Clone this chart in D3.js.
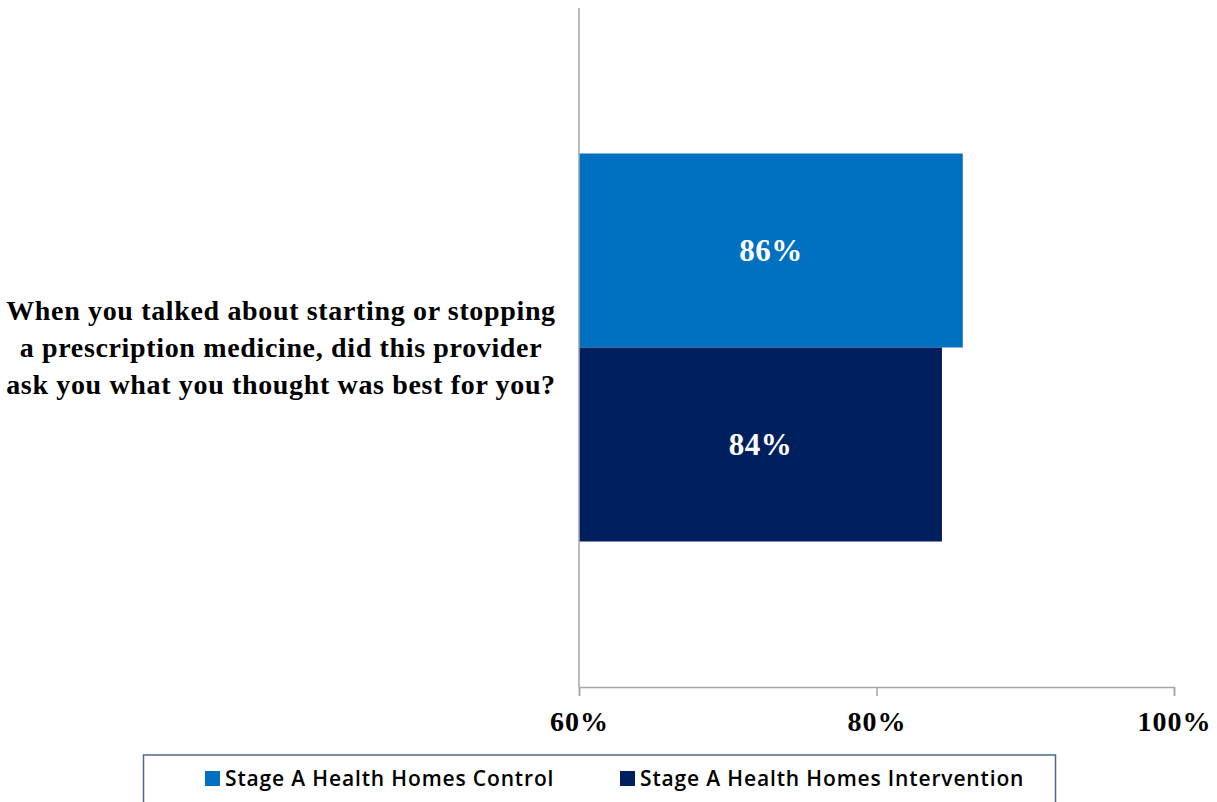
<!DOCTYPE html>
<html>
<head>
<meta charset="utf-8">
<script src="https://cdn.jsdelivr.net/npm/d3@7"></script>
<style>
  html, body { margin: 0; padding: 0; background: #ffffff; }
  svg { display: block; }
</style>
</head>
<body>
<svg id="chart" width="1217" height="802"></svg>
<script>
// Survey question (single category) and the two series shown as bars
const categories = ["When you talked about starting or stopping a prescription medicine, did this provider ask you what you thought was best for you?"];
const categoryLines = [
  "When you talked about starting or stopping",
  "a prescription medicine, did this provider",
  "ask you what you thought was best for you?"
];
const seriesNames = ["Stage A Health Homes Control", "Stage A Health Homes Intervention"];
const controlValues = [0.858];
const interventionValues = [0.844];
const tickValues = [0.6, 0.8, 1.0];
const seriesColors = ["#0070C0", "#001F5F"];

const svg = d3.select("#chart");
const margin = { left: 579, right: 43, top: 8, bottom: 115 };
const W = 1217, H = 802;
const plotW = W - margin.left - margin.right;
const plotH = H - margin.top - margin.bottom;

const g = svg.append("g").attr("transform", `translate(${margin.left},${margin.top})`);

const x = d3.scaleLinear().domain([0.6, 1.0]).range([0, plotW]);
const y = d3.scaleBand().domain(categories).range([0, plotH]).paddingOuter(0.375).paddingInner(0);
const ySeries = d3.scaleBand().domain(seriesNames).range([0, y.bandwidth()]).padding(0);

const rows = categories.map((c, i) => ({
  category: c,
  values: [
    { series: seriesNames[0], value: controlValues[i], color: seriesColors[0] },
    { series: seriesNames[1], value: interventionValues[i], color: seriesColors[1] }
  ]
}));

const serif = "'Liberation Serif', 'Times New Roman', serif";

// Bars
const catG = g.selectAll("g.cat").data(rows).join("g")
  .attr("class", "cat")
  .attr("transform", d => `translate(0,${y(d.category)})`);

catG.selectAll("rect").data(d => d.values).join("rect")
  .attr("x", x(0.6))
  .attr("y", d => ySeries(d.series))
  .attr("width", d => x(d.value) - x(0.6))
  .attr("height", ySeries.bandwidth())
  .attr("fill", d => d.color);

// Value labels inside bars
catG.selectAll("text.val").data(d => d.values).join("text")
  .attr("class", "val")
  .attr("x", d => (x(0.6) + x(d.value)) / 2)
  .attr("y", d => ySeries(d.series) + ySeries.bandwidth() / 2)
  .attr("dy", "0.35em")
  .attr("text-anchor", "middle")
  .attr("fill", "#ffffff")
  .style("font-family", serif)
  .style("font-weight", "bold")
  .style("font-size", "31px")
  .style("letter-spacing", "0.5px")
  .text(d => d3.format(".0%")(d.value));

// Vertical category axis line
g.append("line")
  .attr("x1", 0).attr("x2", 0)
  .attr("y1", 0).attr("y2", plotH)
  .attr("stroke", "#a6a6a6").attr("stroke-width", 1.5);

// Horizontal value axis
const xAxis = d3.axisBottom(x).tickValues(tickValues).tickFormat(d3.format(".0%")).tickSize(9).tickPadding(15);
const ax = g.append("g").attr("transform", `translate(0,${plotH})`).call(xAxis);
ax.select(".domain").attr("stroke", "#a6a6a6").attr("stroke-width", 1.5);
ax.selectAll(".tick line").attr("stroke", "#a6a6a6").attr("stroke-width", 1.5);
ax.selectAll(".tick text")
  .attr("fill", "#000")
  .style("font-family", serif)
  .style("font-weight", "bold")
  .style("font-size", "28px")
  .style("letter-spacing", "1px");

// Category label (wrapped, centred to the left of the axis)
const labelCenterX = 281;
const catMid = margin.top + y(categories[0]) + y.bandwidth() / 2;
const lineH = 37;
svg.append("text")
  .attr("text-anchor", "middle")
  .style("font-family", serif)
  .style("font-weight", "bold")
  .style("font-size", "28px")
  .style("letter-spacing", "0.65px")
  .attr("fill", "#000")
  .selectAll("tspan").data(categoryLines).join("tspan")
  .attr("x", labelCenterX)
  .attr("y", (d, i) => catMid + (i - (categoryLines.length - 1) / 2) * lineH)
  .attr("dy", "0.33em")
  .text(d => d);

// Legend
const legend = svg.append("g");
legend.append("rect")
  .attr("x", 143.5).attr("y", 755)
  .attr("width", 912).attr("height", 60)
  .attr("fill", "#ffffff")
  .attr("stroke", "#4f6790").attr("stroke-width", 1.5);

const legendX = [205, 620];
const legendItems = legend.selectAll("g.item").data(seriesNames).join("g")
  .attr("class", "item")
  .attr("transform", (d, i) => `translate(${legendX[i]},778.5)`);
legendItems.append("rect")
  .attr("x", 0).attr("y", -7.5)
  .attr("width", 15).attr("height", 15)
  .attr("fill", (d, i) => seriesColors[i]);
legendItems.append("text")
  .attr("x", 20).attr("y", 0).attr("dy", "0.35em")
  .style("font-family", "'Open Sans', 'Liberation Sans', sans-serif")
  .style("font-weight", "600")
  .style("font-size", "21px")
  .style("letter-spacing", "0.85px")
  .attr("fill", "#000")
  .text(d => d);
</script>
</body>
</html>
